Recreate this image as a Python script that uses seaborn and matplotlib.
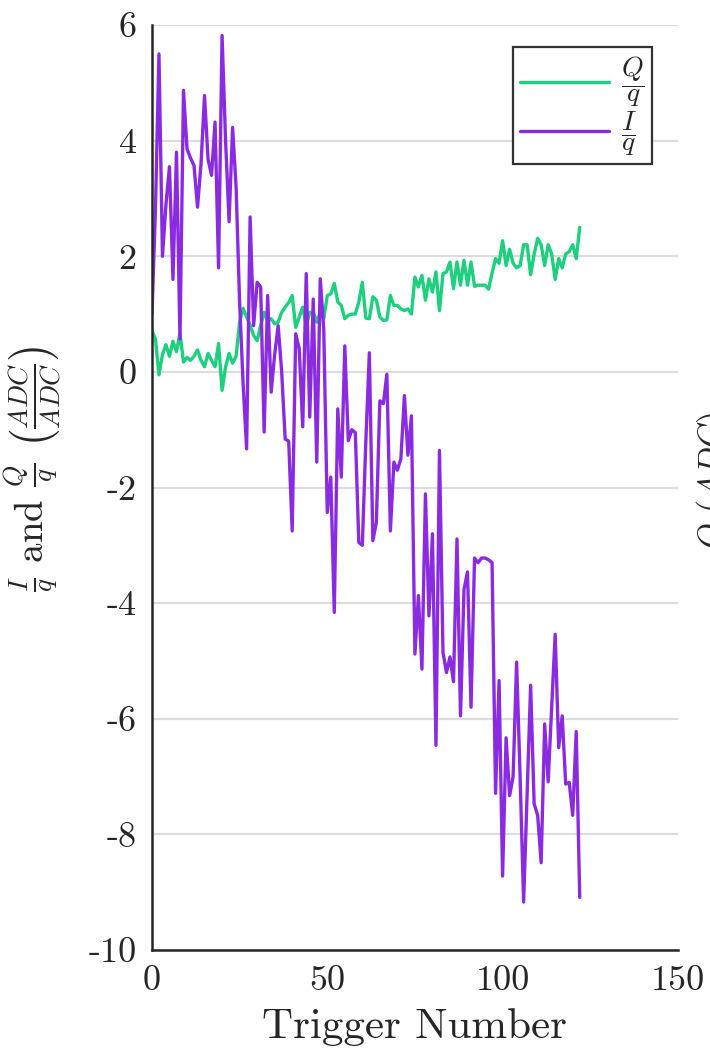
import numpy as np
import pandas as pd
import seaborn as sns
import matplotlib.pyplot as plt
from matplotlib.ticker import FuncFormatter

# ---------------- data ----------------
i_over_q = [
    1.0, 2.8, 5.5, 2.0, 2.9, 3.55, 1.6, 3.8, 0.57, 4.87,
    3.86, 3.7, 3.57, 2.85, 3.6, 4.78, 3.68, 3.4, 4.32, 1.8,
    5.82, 4.0, 2.6, 4.23, 3.2, 1.2, -0.2, -1.33, 2.68, 0.8,
    1.55, 1.47, -1.04, 1.32, -0.35, 0.3, 0.8, 0.0, -1.16, -1.2,
    -2.75, 0.66, 0.4, -0.95, 1.7, -0.78, 1.26, -1.56, 1.61, 0.74,
    -2.43, -1.82, -4.16, -0.64, -1.82, 0.45, -1.19, -1.0, -1.05, -2.95,
    -3.0, -1.2, 0.33, -2.92, -2.6, -0.5, -0.55, -0.04, -2.75, -1.56,
    -1.7, -1.5, -0.41, -1.44, -0.76, -4.88, -3.87, -5.14, -2.11, -4.22,
    -2.8, -6.46, -1.36, -4.85, -5.2, -4.93, -5.36, -2.89, -5.95, -3.76,
    -3.46, -5.8, -3.22, -3.3, -3.22, -3.22, -3.25, -3.3, -7.29, -5.34,
    -8.72, -6.33, -7.33, -7.0, -5.02, -7.0, -9.17, -7.3, -5.42, -7.47,
    -7.67, -8.49, -6.09, -7.09, -5.8, -4.54, -6.5, -5.95, -7.13, -7.1,
    -7.67, -6.22, -9.09,
]
q_over_q = [
    0.71, 0.57, -0.05, 0.3, 0.47, 0.27, 0.53, 0.35, 0.67, 0.17,
    0.25, 0.2, 0.27, 0.38, 0.2, 0.09, 0.32, 0.2, 0.09, 0.49,
    -0.32, 0.09, 0.32, 0.15, 0.27, 0.86, 1.1, 0.95, 0.81, 0.63,
    0.54, 0.8, 1.03, 0.89, 0.92, 0.83, 0.86, 1.03, 1.12, 1.2,
    1.32, 0.77, 0.95, 1.12, 0.8, 1.03, 1.03, 0.86, 1.03, 0.92,
    1.32, 1.35, 1.53, 1.21, 1.15, 0.92, 0.98, 1.0, 1.0, 1.21,
    1.55, 0.93, 0.92, 1.3, 1.24, 0.95, 0.89, 0.9, 1.32, 1.15,
    1.15, 1.09, 1.06, 1.09, 1.0, 1.64, 1.47, 1.67, 1.24, 1.61,
    1.38, 1.73, 1.06, 1.7, 1.73, 1.9, 1.44, 1.9, 1.5, 1.93,
    1.5, 1.9, 1.48, 1.5, 1.5, 1.5, 1.43, 1.71, 1.96, 1.88,
    2.27, 1.84, 2.12, 1.88, 1.8, 1.84, 2.2, 2.2, 1.68, 2.04,
    2.31, 2.2, 1.84, 2.2, 2.04, 1.6, 1.96, 1.8, 2.04, 2.08,
    2.2, 1.96, 2.5,
]
trigger = list(range(len(i_over_q)))

series_labels = [r'$\dfrac{Q}{q}$', r'$\dfrac{I}{q}$']
series_colors = ['#1dd07e', '#8a2be2']

x_ticks = [0, 50, 100, 150]
y_ticks = [-10, -8, -6, -4, -2, 0, 2, 4, 6]

df = pd.DataFrame({
    'trigger': trigger * 2,
    'value': q_over_q + i_over_q,
    'series': [series_labels[0]] * len(trigger) + [series_labels[1]] * len(trigger),
})

# ---------------- style ----------------
sns.set_theme(style='white')
plt.rcParams['font.family'] = ['cmr10', 'DejaVu Serif']
plt.rcParams['mathtext.fontset'] = 'cm'
plt.rcParams['axes.unicode_minus'] = False
plt.rcParams['axes.formatter.use_mathtext'] = True

ink = '#262626'

fig = plt.figure(figsize=(7.1, 10.61), dpi=100)
ax = fig.add_axes([0.214, 0.1046, 0.7408, 0.8718])

sns.lineplot(data=df, x='trigger', y='value', hue='series',
             hue_order=series_labels, palette=series_colors,
             estimator=None, sort=False, linewidth=2.4, ax=ax)

ax.set_xlim(0, 150)
ax.set_ylim(-10, 6)
ax.set_xticks(x_ticks)
ax.set_yticks(y_ticks)
ax.yaxis.set_major_formatter(FuncFormatter(lambda v, p: '%d' % v))
ax.xaxis.set_major_formatter(FuncFormatter(lambda v, p: '%d' % v))

ax.grid(axis='y', color='#dcdcdc', linewidth=1.6)
ax.set_axisbelow(True)
for side in ['top', 'right']:
    ax.spines[side].set_visible(False)
for side in ['left', 'bottom']:
    ax.spines[side].set_color(ink)
    ax.spines[side].set_linewidth(1.8)

ax.tick_params(axis='both', direction='in', length=7, width=1.5,
               color=ink, labelcolor=ink, labelsize=26, pad=11)

ax.set_xlabel('Trigger Number', fontsize=31, color=ink, labelpad=8)
ax.set_ylabel(r'$\frac{I}{q}$ and $\frac{Q}{q}$ $\left(\frac{ADC}{ADC}\right)$',
              fontsize=28, color=ink)
ax.yaxis.set_label_coords(-0.168, 0.52)

handles, labels = ax.get_legend_handles_labels()
leg = ax.legend(handles, labels, loc='upper right', bbox_to_anchor=(0.951, 0.976),
                borderaxespad=0, fontsize=20, frameon=True, fancybox=False,
                framealpha=1, edgecolor='#333333', handlelength=3.2,
                labelspacing=0.0, borderpad=0.25, handletextpad=0.45)
leg.get_frame().set_linewidth(1.6)

# right-hand axis label, cut off by the figure edge in the original
fig.text(0.978, 0.547, r'$Q\ (ADC)$', rotation=90, ha='left', va='center',
         fontsize=24, color=ink)

fig.savefig('out.png', dpi=100)
